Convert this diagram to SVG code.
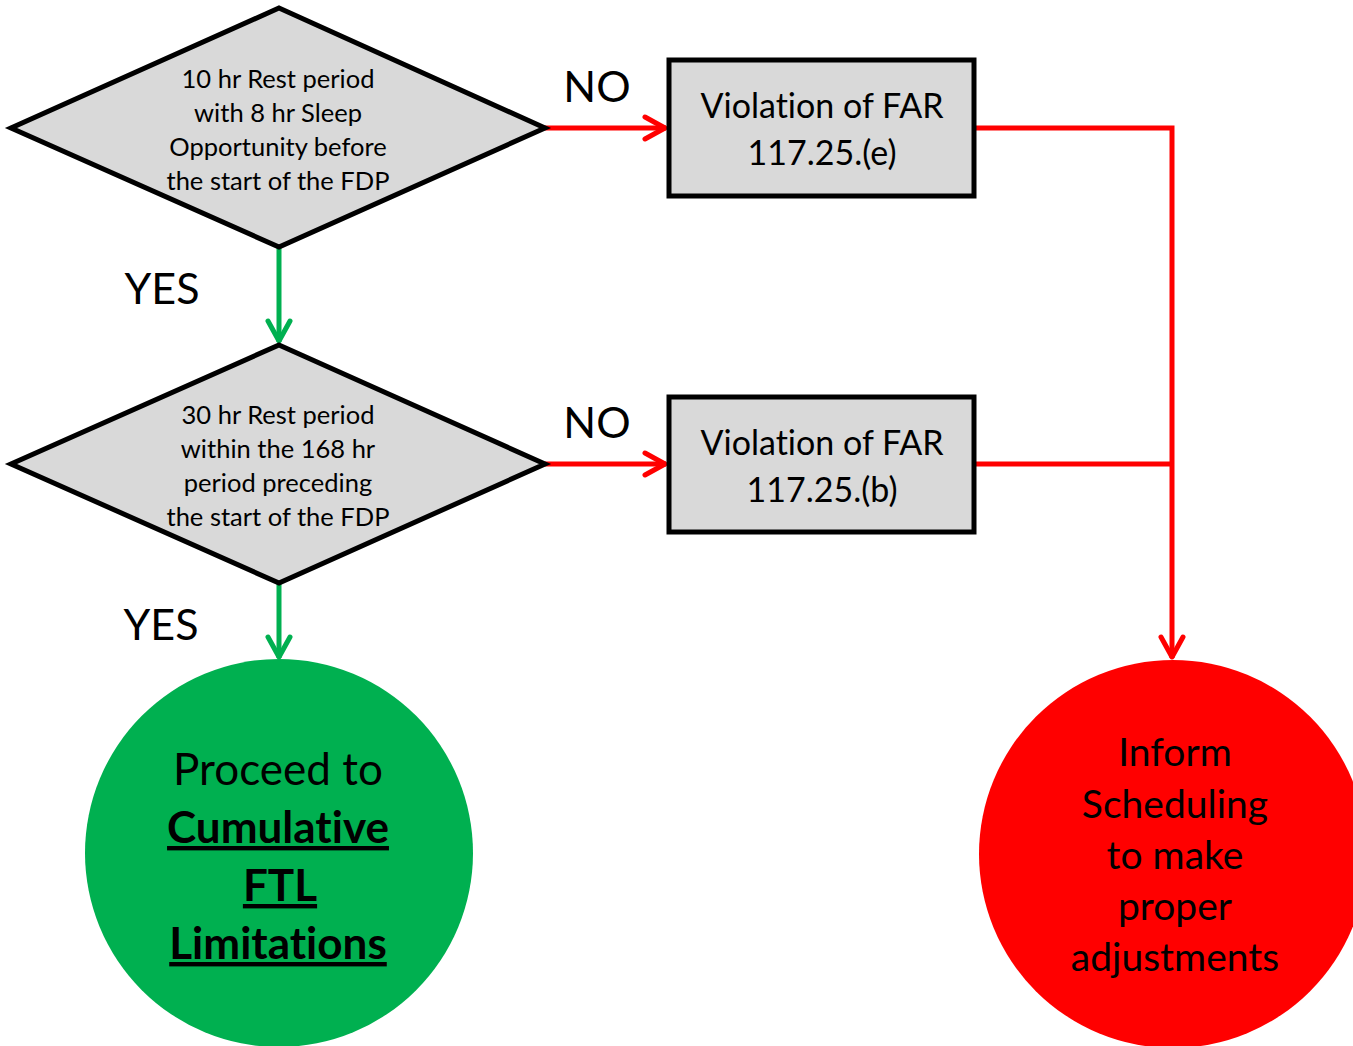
<svg xmlns="http://www.w3.org/2000/svg" width="1353" height="1046" viewBox="0 0 1353 1046">
<defs>
<style>
.t{font-family:Lato,"Liberation Sans",sans-serif;fill:#000;text-anchor:middle;font-variant-ligatures:none;font-feature-settings:"liga" 0,"clig" 0,"calt" 0,"dlig" 0;letter-spacing:0.01px}
.d{font-size:25.5px}
.b{font-size:34px}
.lbl{font-size:43px}
.dia,.box{fill:#d9d9d9;stroke:#000;stroke-width:5;stroke-linejoin:miter}
.red{stroke:#ff0000;stroke-width:5;fill:none}
.grn{stroke:#00b050;stroke-width:5;fill:none}
</style>
<marker id="ar" viewBox="0 0 26 28" refX="24" refY="14" markerWidth="26" markerHeight="28" markerUnits="userSpaceOnUse" orient="auto">
<path d="M3,3 L23,14 L3,25" fill="none" stroke="#ff0000" stroke-width="5" stroke-linecap="round" stroke-linejoin="round"/>
</marker>
<marker id="ag" viewBox="0 0 26 28" refX="24" refY="14" markerWidth="26" markerHeight="28" markerUnits="userSpaceOnUse" orient="auto">
<path d="M3,3 L23,14 L3,25" fill="none" stroke="#00b050" stroke-width="5" stroke-linecap="round" stroke-linejoin="round"/>
</marker>
</defs>
<rect width="1353" height="1046" fill="#fff"/>
<g id="connectors">
<line class="red" x1="545" y1="128" x2="666" y2="128" marker-end="url(#ar)"/>
<line class="red" x1="545" y1="464" x2="666" y2="464" marker-end="url(#ar)"/>
<polyline class="red" points="974,128 1172,128 1172,658" marker-end="url(#ar)"/>
<line class="red" x1="974" y1="464" x2="1172" y2="464"/>
<line class="grn" x1="279" y1="247" x2="279" y2="342" marker-end="url(#ag)"/>
<line class="grn" x1="279" y1="583" x2="279" y2="658" marker-end="url(#ag)"/>
<text class="t lbl" x="597" y="102">NO</text>
<text class="t lbl" x="597" y="438">NO</text>
<text class="t lbl" x="162" y="304">YES</text>
<text class="t lbl" x="161" y="640">YES</text>
</g>
<g id="decision1">
<polygon class="dia" points="279,8 545,128 279,247 11,128"/>
<text class="t d" x="278" y="88">10 hr Rest period</text>
<text class="t d" x="278" y="122">with 8 hr Sleep</text>
<text class="t d" x="278" y="156">Opportunity before</text>
<text class="t d" x="278" y="190">the start of the FDP</text>
</g>
<g id="decision2">
<polygon class="dia" points="279,345 545,464 279,583 11,464"/>
<text class="t d" x="278" y="424">30 hr Rest period</text>
<text class="t d" x="278" y="458">within the 168 hr</text>
<text class="t d" x="278" y="492">period preceding</text>
<text class="t d" x="278" y="526">the start of the FDP</text>
</g>
<g id="violation-e">
<rect class="box" x="669" y="60" width="305" height="136"/>
<text class="t b" x="822" y="118">Violation of FAR</text>
<text class="t b" x="822" y="165">117.25.(e)</text>
</g>
<g id="violation-b">
<rect class="box" x="669" y="397" width="305" height="135"/>
<text class="t b" x="822" y="455">Violation of FAR</text>
<text class="t b" x="822" y="502">117.25.(b)</text>
</g>
<g id="proceed">
<circle cx="279" cy="853" r="194" fill="#00b050"/>
<text class="t" style="font-size:44px" x="278" y="785">Proceed to</text>
<text class="t" style="font-size:44px;font-weight:bold;text-decoration:underline" x="278" y="843">Cumulative</text>
<text class="t" style="font-size:44px;font-weight:bold;text-decoration:underline" x="280" y="901">FTL</text>
<text class="t" style="font-size:44px;font-weight:bold;text-decoration:underline" x="278" y="959">Limitations</text>
</g>
<g id="inform">
<circle cx="1173" cy="854" r="194" fill="#ff0000"/>
<text class="t" style="font-size:39px" x="1175" y="766">Inform</text>
<text class="t" style="font-size:39px" x="1175" y="818">Scheduling</text>
<text class="t" style="font-size:39px" x="1175" y="869">to make</text>
<text class="t" style="font-size:39px" x="1175" y="920">proper</text>
<text class="t" style="font-size:39px" x="1175" y="971">adjustments</text>
</g>
</svg>
